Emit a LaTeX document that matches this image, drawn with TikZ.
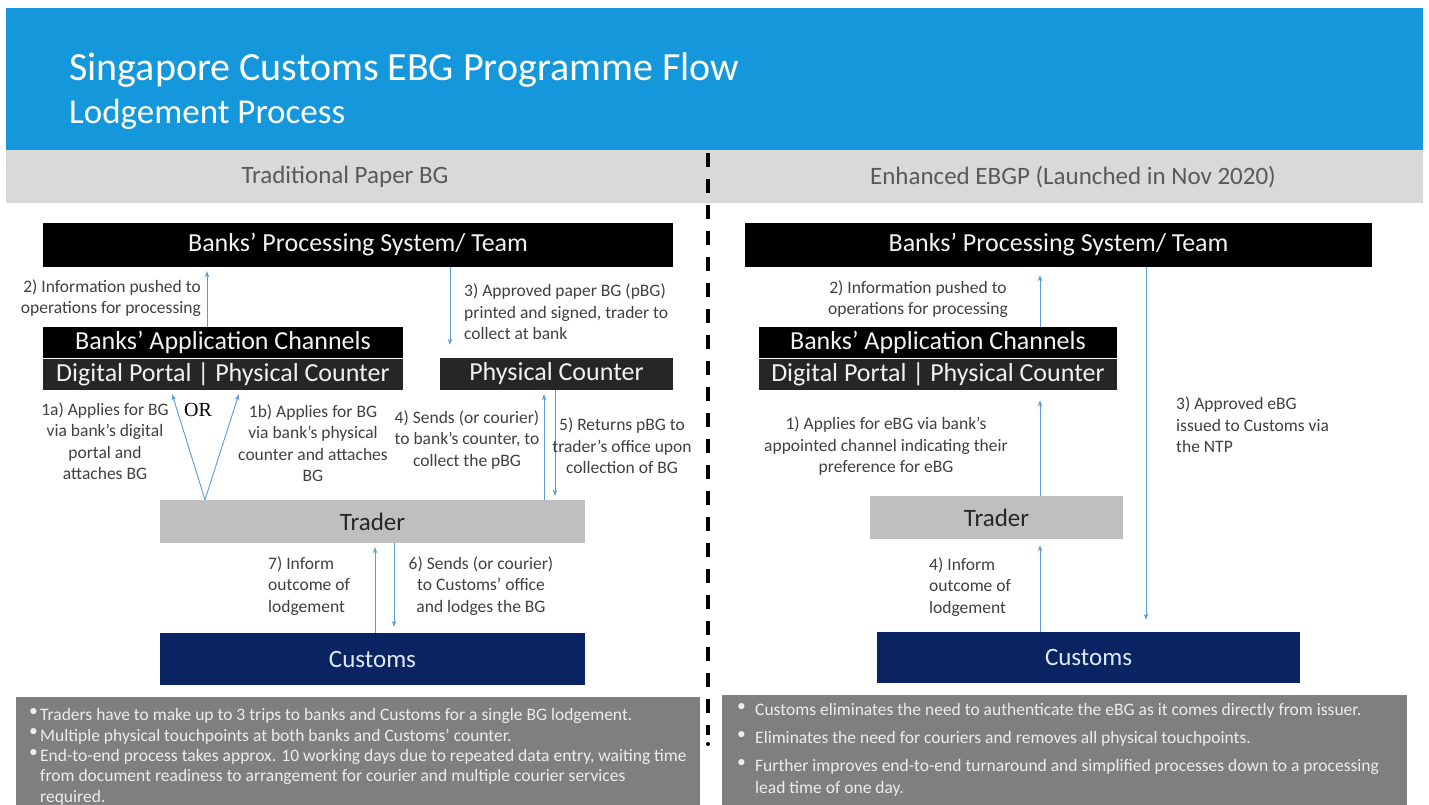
\documentclass[tikz,border=0pt]{standalone}
\usepackage{fontspec}
\setmainfont{Carlito}
\newfontfamily\orfont{Liberation Serif}
\usetikzlibrary{arrows.meta}

\begin{document}
\begin{tikzpicture}[x=1pt, y=-1pt,
    bankbox/.style={rectangle, inner sep=0, fill=black, text=boxtext, font=\fontsize{26}{30}\selectfont},
    chanbox/.style={bankbox, fill=chanfill},
    traderbox/.style={rectangle, inner sep=0, fill=traderfill, text=tradertext, font=\fontsize{25}{30}\selectfont},
    customsbox/.style={rectangle, inner sep=0, fill=customsfill, text=customstext, font=\fontsize{25}{30}\selectfont},
    bandtext/.style={inner sep=0, text=bandtextc, font=\fontsize{25}{28}\selectfont},
    notebox/.style={rectangle, inner sep=0, fill=notefill, anchor=north west},
    notetext/.style={inner sep=0, text=notetextc, align=left, anchor=north west, font=\fontsize{17.5}{20.5}\selectfont},
    steplabel/.style={inner sep=0, text=labeltext, align=center, font=\fontsize{17.5}{21.5}\selectfont},
    flow/.style={draw=flowblue, line width=0.9pt, -{Stealth[length=6pt,width=4.5pt]}},
    divider/.style={line width=3.5pt, dash pattern=on 14pt off 12pt}]
		\definecolor{headblue}{HTML}{1497DB}
		\definecolor{bandgray}{HTML}{D9D9D9}
		\definecolor{bandtextc}{HTML}{595959}
		\definecolor{boxtext}{HTML}{F2F2F2}
		\definecolor{chanfill}{HTML}{262626}
		\definecolor{traderfill}{HTML}{BFBFBF}
		\definecolor{tradertext}{HTML}{262626}
		\definecolor{customsfill}{HTML}{0A2463}
		\definecolor{customstext}{HTML}{DDEBF7}
		\definecolor{notefill}{HTML}{7F7F7F}
		\definecolor{notetextc}{HTML}{EDEDED}
		\definecolor{labeltext}{HTML}{404040}
		\definecolor{flowblue}{HTML}{5B9BD5}
		\useasboundingbox (0,0) rectangle (1429,804);
		\fill[white] (0,0) rectangle (1429,804);

		% header and column titles
		\fill[headblue] (6,8) rectangle (1423,150);
		\node (title) [anchor=base west, inner sep=0, text=white, font=\fontsize{40}{48}\selectfont] at (69,80) {Singapore Customs EBG Programme Flow};
		\node (subtitle) [anchor=base west, inner sep=0, text=white, font=\fontsize{35}{40}\selectfont] at (69,123) {Lodgement Process};
		\fill[bandgray] (6,150) rectangle (1423,203);
		\node (paperhead) [bandtext] at (345,177) {Traditional Paper BG};
		\node (ebghead) [bandtext] at (1073,177) {Enhanced EBGP (Launched in Nov 2020)};
		\draw[divider] (708,153) -- (708,735);
		\fill (708,744) circle (2pt);

		% traditional paper BG
		\node (procL) [bankbox, minimum width=630, minimum height=44] at (358,245) {Banks’ Processing System/ Team};
		\node (appL) [bankbox, minimum width=360, minimum height=31.5] at (223,342.5) {Banks’ Application Channels};
		\node (portL) [chanbox, minimum width=360, minimum height=31.5] at (223,374.5) {Digital Portal | Physical Counter};
		\node (pcL) [chanbox, minimum width=233, minimum height=32] at (556.5,374) {Physical Counter};
		\node (trL) [traderbox, minimum width=425, minimum height=43] at (372.5,521.5) {Trader};
		\node (cuL) [customsbox, minimum width=425, minimum height=52] at (372.5,659) {Customs};
		\coordinate (forkL) at (trL.north -| 205,0);

		\draw[flow, shorten >=4pt] (appL.north -| 207,0) -- (procL.south -| 207,0);
		\draw[flow, shorten >=13pt] (procL.south -| 450,0) -- (pcL.north -| 450,0);
		\draw[flow, shorten >=4pt] (forkL) -- (portL.south -| 171,0);
		\draw[flow, shorten >=4pt] (forkL) -- (portL.south -| 240,0);
		\draw[flow, shorten >=4pt] (trL.north -| 544,0) -- (pcL.south -| 544,0);
		\draw[flow, shorten >=4pt] (pcL.south -| 555,0) -- (trL.north -| 555,0);
		\draw[flow, shorten >=4pt] (cuL.north -| 375,0) -- (trL.south -| 375,0);
		\draw[flow, shorten >=6pt] (trL.south -| 394,0) -- (cuL.north -| 394,0);

		\node (l2) [steplabel, align=right, anchor=east] at (201,298) {2) Information pushed to\\operations for processing};
		\node (l3) [steplabel, align=left, anchor=west] at (464,312) {3) Approved paper BG (pBG)\\printed and signed, trader to\\collect at bank};
		\node (l1a) [steplabel] at (105,441) {1a) Applies for BG\\via bank’s digital\\portal and\\attaches BG};
		\node (or) [inner sep=0, font=\orfont\fontsize{20}{24}\selectfont] at (198,410) {OR};
		\node (l1b) [steplabel] at (313,443) {1b) Applies for BG\\via bank’s physical\\counter and attaches\\BG};
		\node (l4) [steplabel] at (467,440) {4) Sends (or courier)\\to bank’s counter, to\\collect the pBG};
		\node (l5) [steplabel] at (622,446) {5) Returns pBG to\\trader’s office upon\\collection of BG};
		\node (l7) [steplabel, align=left, anchor=west] at (268,586) {7) Inform\\outcome of\\lodgement};
		\node (l6) [steplabel] at (481,586) {6) Sends (or courier)\\to Customs’ office\\and lodges the BG};

		\node (noteL) [notebox, minimum width=684, minimum height=120] at (16,697) {};
		\node (bL1) [notetext] at (29,708) {•};
		\node (tL1) [notetext] at (40,708) {Traders have to make up to 3 trips to banks and Customs for a single BG lodgement.};
		\node (bL2) [notetext] at (29,728.5) {•};
		\node (tL2) [notetext] at (40,728.5) {Multiple physical touchpoints at both banks and Customs’ counter.};
		\node (bL3) [notetext] at (29,749) {•};
		\node (tL3) [notetext] at (40,749) {End-to-end process takes approx. 10 working days due to repeated data entry, waiting time\\from document readiness to arrangement for courier and multiple courier services\\required.};

		% enhanced EBGP
		\node (procR) [bankbox, minimum width=627, minimum height=44] at (1058.5,245) {Banks’ Processing System/ Team};
		\node (appR) [bankbox, minimum width=358, minimum height=31.5] at (938,342.5) {Banks’ Application Channels};
		\node (portR) [chanbox, minimum width=358, minimum height=31.5] at (938,374.5) {Digital Portal | Physical Counter};
		\node (trR) [traderbox, minimum width=253, minimum height=43] at (996.5,517.5) {Trader};
		\node (cuR) [customsbox, minimum width=423, minimum height=51] at (1088.5,657.5) {Customs};

		\draw[flow, shorten >=8pt] (appR.north -| 1040,0) -- (procR.south -| 1040,0);
		\draw[flow, shorten >=10pt] (trR.north -| 1040,0) -- (portR.south -| 1040,0);
		\draw[flow, shorten >=12pt] (procR.south -| 1146,0) -- (cuR.north -| 1146,0);
		\draw[flow, shorten >=6pt] (cuR.north -| 1040,0) -- (trR.south -| 1040,0);

		\node (r2) [steplabel] at (918,299) {2) Information pushed to\\operations for processing};
		\node (r1) [steplabel] at (886,446) {1) Applies for eBG via bank’s\\appointed channel indicating their\\preference for eBG};
		\node (r3) [steplabel, align=left, anchor=west] at (1176,425) {3) Approved eBG\\issued to Customs via\\the NTP};
		\node (r4) [steplabel, align=left, anchor=west] at (929,587) {4) Inform\\outcome of\\lodgement};

		\node (noteR) [notebox, minimum width=685, minimum height=115] at (722,695) {};
		\node (bR1) [notetext] at (737,703) {•};
		\node (tR1) [notetext] at (755,703) {Customs eliminates the need to authenticate the eBG as it comes directly from issuer.};
		\node (bR2) [notetext] at (737,731) {•};
		\node (tR2) [notetext] at (755,731) {Eliminates the need for couriers and removes all physical touchpoints.};
		\node (bR3) [notetext] at (737,759) {•};
		\node (tR3) [notetext, font=\fontsize{17.5}{22}\selectfont] at (755,759) {Further improves end-to-end turnaround and simplified processes down to a processing\\lead time of one day.};
	\end{tikzpicture}
\end{document}
